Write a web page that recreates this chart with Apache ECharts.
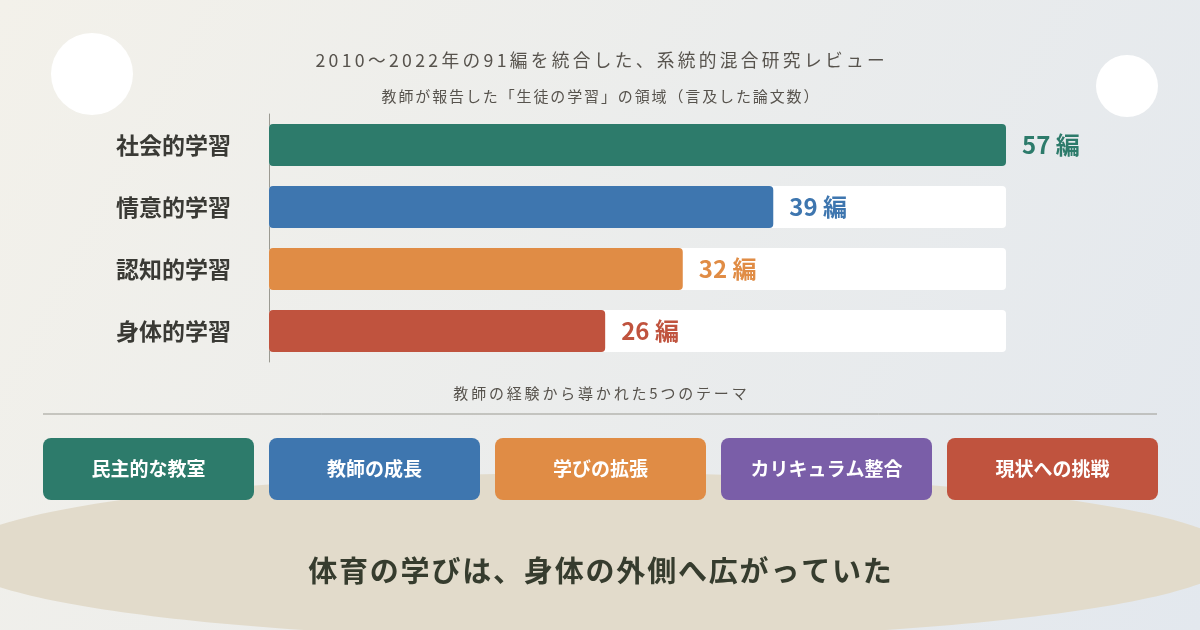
<!DOCTYPE html>
<html lang="ja">
<head>
    <meta charset="UTF-8">
    <title>体育の学び</title>
    <script type="text/javascript" src="https://cdn.jsdelivr.net/npm/echarts@6/dist/echarts.min.js"></script>
    <style>
        html, body { margin: 0; padding: 0; }
        #charts { width: 1200px; height: 630px; }
    </style>
</head>
<body>
<div id="charts"></div>
<script>
    // 学習領域と論文数
    var categories = ["社会的学習", "情意的学習", "認知的学習", "身体的学習"]
    var counts = [57, 39, 32, 26]
    var colors = ["#2d7b6b", "#3e76af", "#e08c45", "#c0533e"]
    var totalPapers = 57

    // 5つのテーマ
    var themes = ["民主的な教室", "教師の成長", "学びの拡張", "カリキュラム整合", "現状への挑戦"]
    var themeColors = ["#2d7b6b", "#3e76af", "#e08c45", "#7a5ea8", "#c0533e"]

    var FONT = '"Noto Sans CJK JP", "Noto Sans", sans-serif'

    // 字間を少しあける（hair space を n 個はさむ）
    function spaced(s, n) {
        var gap = ""
        for (var k = 0; k < n; k++) gap += "\u200A"
        return s.split("").join(gap)
    }

    var graphics = [
        {type: "circle", shape: {cx: 92, cy: 74, r: 41}, style: {fill: "#ffffff"}, silent: true},
        {type: "circle", shape: {cx: 1127, cy: 86, r: 31}, style: {fill: "#ffffff"}, silent: true},
        {
            type: "ellipse", shape: {cx: 595, cy: 556, rx: 642, ry: 83},
            style: {fill: "#e2dbcb"}, silent: true
        },
        {
            type: "text", left: "center", top: 51,
            style: {text: spaced("2010～2022年の91編を統合した、系統的混合研究レビュー", 3), fill: "#57534d", font: "400 17.7px " + FONT}
        },
        {
            type: "text", left: "center", top: 89,
            style: {text: spaced("教師が報告した「生徒の学習」の領域（言及した論文数）", 2), fill: "#57534d", font: "400 15px " + FONT}
        },
        {
            type: "text", left: "center", top: 386,
            style: {text: spaced("教師の経験から導かれた5つのテーマ", 3), fill: "#57534d", font: "400 15px " + FONT}
        },
        {
            type: "line", shape: {x1: 43, y1: 414, x2: 1157, y2: 414},
            style: {stroke: "#9b9a92", lineWidth: 1}, silent: true
        },
        {
            type: "text", left: "center", top: 556,
            style: {text: spaced("体育の学びは、身体の外側へ広がっていた", 1), fill: "#363c2e", font: "700 29px " + FONT}
        }
    ]

    // テーマのボックス
    var boxW = 211, boxGap = 15, boxX0 = 43, boxY = 438, boxH = 62
    for (var i = 0; i < themes.length; i++) {
        var x = boxX0 + i * (boxW + boxGap)
        graphics.push({
            type: "rect", shape: {x: x, y: boxY, width: boxW, height: boxH, r: 8},
            style: {fill: themeColors[i]}, silent: true
        })
        graphics.push({
            type: "text", x: x + boxW / 2, y: boxY + boxH / 2,
            style: {
                text: themes[i], fill: "#ffffff", font: "700 19px " + FONT,
                align: "center", verticalAlign: "middle"
            }
        })
    }

    var chart = echarts.init(document.getElementById("charts"), null, {renderer: "canvas"})
    chart.setOption({
        animation: false,
        backgroundColor: new echarts.graphic.LinearGradient(0, 0, 1, 1, [
            {offset: 0, color: "#f3f1ea"},
            {offset: 1, color: "#e3e8ee"}
        ]),
        graphic: graphics,
        grid: {left: 269, right: 194, top: 114, bottom: 268},
        xAxis: {
            type: "value", min: 0, max: totalPapers, show: false, splitLine: {show: false}
        },
        yAxis: {
            type: "category", data: categories, inverse: true,
            axisLine: {show: true, lineStyle: {color: "#9b9a92", width: 1}},
            axisTick: {show: false},
            axisLabel: {
                margin: 38, fontSize: 23, fontWeight: "bold", color: "#3a3a35", fontFamily: FONT
            }
        },
        series: [
            {
                type: "bar", silent: true, barWidth: 42, barGap: "-100%",
                data: categories.map(function () { return totalPapers }),
                itemStyle: {color: "#ffffff", borderRadius: 4}
            },
            {
                type: "bar", barWidth: 42,
                data: counts.map(function (v, i) {
                    return {value: v, itemStyle: {color: colors[i]}, label: {color: colors[i]}}
                }),
                itemStyle: {borderRadius: 4},
                label: {
                    show: true, position: "right", distance: 16,
                    formatter: "{c} 編", fontSize: 24, fontWeight: "bold", fontFamily: FONT
                }
            }
        ]
    })
</script>
</body>
</html>
